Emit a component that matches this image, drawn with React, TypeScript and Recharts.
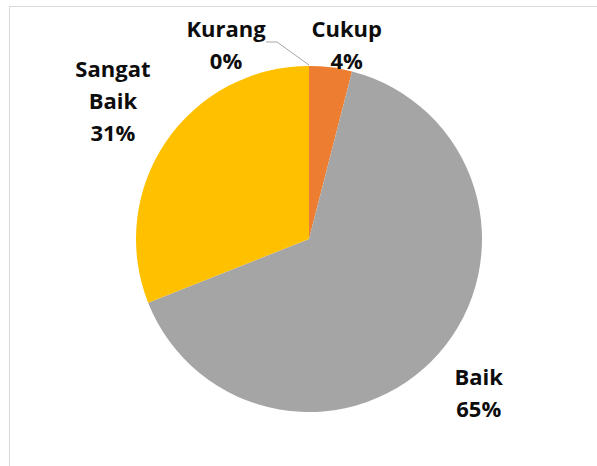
import { PieChart, Pie, Cell } from 'recharts';

const categories = ['Kurang', 'Cukup', 'Baik', 'Sangat Baik'];
const values = [0, 4, 65, 31];
const colors = ['#4472C4', '#ED7D31', '#A5A5A5', '#FFC000'];

// label lines and offsets from the slice's outer edge point
const labelLines = [['Kurang', '0%'], ['Cukup', '4%'], ['Baik', '65%'], ['Sangat', 'Baik', '31%']];
const labelOffsets = [
    { dx: -83, dy: -38 },
    { dx: 16, dy: -39 },
    { dx: 40, dy: 23 },
    { dx: -53, dy: -74 },
];

const data = categories.map((name, i) => ({ name, value: values[i] }));

const RAD = Math.PI / 180;
const LINE_H = 32;

function renderLabel(props: any) {
    const { cx, cy, midAngle, outerRadius, index } = props;
    const ox = cx + outerRadius * Math.cos(-midAngle * RAD);
    const oy = cy + outerRadius * Math.sin(-midAngle * RAD);
    const off = labelOffsets[index];
    const x = ox + off.dx;
    const y = oy + off.dy;
    const lines = labelLines[index];
    return (
        <g key={`lbl-${index}`}>
            {index === 0 && (
                <polyline
                    points={`${x + 40},${y + 14} ${x + 51},${y + 14} ${ox},${oy - 1}`}
                    fill="none"
                    stroke="#a6a6a6"
                    strokeWidth={1}
                />
            )}
            <text
                x={x}
                y={y}
                textAnchor="middle"
                dominantBaseline="central"
                fill="#0d0d0d"
                fontFamily="'Open Sans', sans-serif"
                fontWeight={700}
                fontSize={22}
            >
                {lines.map((t, i) => (
                    <tspan key={i} x={x} y={y + i * LINE_H}>
                        {t}
                    </tspan>
                ))}
            </text>
        </g>
    );
}

export default function App() {
    return (
        <div style={{ position: 'absolute', left: 0, top: 0, width: 597, height: 466, background: '#fff', overflow: 'hidden' }}>
            <div
                style={{
                    position: 'absolute',
                    left: 9,
                    top: 6,
                    width: 640,
                    height: 520,
                    border: '1px solid #d9d9d9',
                }}
            />
            <div style={{ position: 'absolute', left: 0, top: 0 }}>
                <PieChart width={597} height={466} margin={{ top: 0, right: 0, bottom: 0, left: 0 }}>
                    <Pie
                        data={data}
                        dataKey="value"
                        nameKey="name"
                        cx={309}
                        cy={239}
                        outerRadius={173}
                        startAngle={90}
                        endAngle={-270}
                        stroke="none"
                        label={renderLabel}
                        labelLine={false}
                        isAnimationActive={false}
                    >
                        {data.map((d, i) => (
                            <Cell key={d.name} fill={colors[i]} />
                        ))}
                    </Pie>
                </PieChart>
            </div>
        </div>
    );
}
